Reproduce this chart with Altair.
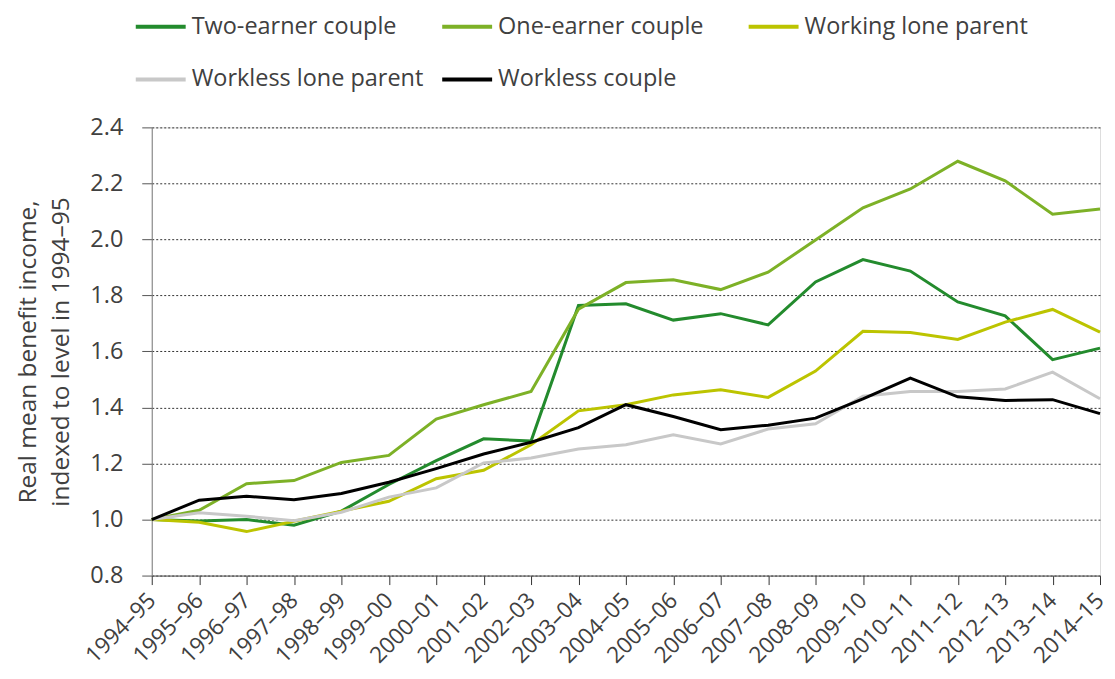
import altair as alt
import pandas as pd

years = ["1994–95", "1995–96", "1996–97", "1997–98", "1998–99", "1999–00",
         "2000–01", "2001–02", "2002–03", "2003–04", "2004–05", "2005–06",
         "2006–07", "2007–08", "2008–09", "2009–10", "2010–11", "2011–12",
         "2012–13", "2013–14", "2014–15"]

two_earner = [1.00, 0.995, 1.00, 0.98, 1.03, 1.125, 1.21, 1.288, 1.28, 1.764, 1.77,
              1.712, 1.735, 1.695, 1.848, 1.928, 1.887, 1.777, 1.727, 1.571, 1.612]
one_earner = [1.00, 1.033, 1.128, 1.139, 1.204, 1.229, 1.359, 1.41, 1.457, 1.751, 1.846,
              1.856, 1.821, 1.883, 1.998, 2.113, 2.18, 2.279, 2.209, 2.09, 2.109]
working_lone = [1.00, 0.99, 0.957, 0.994, 1.03, 1.065, 1.146, 1.176, 1.267, 1.388, 1.41,
                1.445, 1.463, 1.436, 1.53, 1.672, 1.668, 1.643, 1.705, 1.75, 1.669]
workless_lone = [1.00, 1.024, 1.012, 0.996, 1.026, 1.08, 1.113, 1.202, 1.22, 1.252, 1.267,
                 1.303, 1.27, 1.323, 1.342, 1.44, 1.457, 1.457, 1.466, 1.526, 1.431]
workless_couple = [1.00, 1.069, 1.083, 1.071, 1.093, 1.133, 1.182, 1.234, 1.276, 1.328, 1.41,
                   1.368, 1.321, 1.337, 1.362, 1.431, 1.505, 1.438, 1.425, 1.428, 1.378]

series_names = ["Two-earner couple", "One-earner couple", "Working lone parent",
                "Workless lone parent", "Workless couple"]
series_values = [two_earner, one_earner, working_lone, workless_lone, workless_couple]
series_colors = ["#238B2D", "#7DB127", "#BCC400", "#C8C8C8", "#000000"]
draw_order = [3, 2, 1, 0, 4]

rows = []
for k, (name, vals) in enumerate(zip(series_names, series_values)):
    for y, v in zip(years, vals):
        rows.append({"year": y, "value": v, "series": name, "order": draw_order[k]})
df = pd.DataFrame(rows)

FONT = "Open Sans"
TXT = "#404040"
FS = 23.5

chart = alt.Chart(df).mark_line(strokeWidth=3, strokeJoin="miter").encode(
    x=alt.X("year:N", sort=years,
            scale=alt.Scale(type="point", padding=0),
            axis=alt.Axis(title=None, labelAngle=-45, labelFontSize=22.5,
                          labelFont=FONT, labelColor=TXT, labelPadding=12,
                          tickSize=9, tickColor="#333333", domainColor="#555555",
                          grid=False, labelAlign="right", labelBaseline="middle")),
    y=alt.Y("value:Q",
            scale=alt.Scale(domain=[0.8, 2.4], nice=False, zero=False),
            axis=alt.Axis(title=["Real mean benefit income,", "indexed to level in 1994–95"],
                          values=[0.8, 1.0, 1.2, 1.4, 1.6, 1.8, 2.0, 2.2, 2.4],
                          format=".1f", labelFontSize=FS, labelFont=FONT,
                          labelColor=TXT, labelPadding=19, tickSize=10,
                          tickColor="#555555", domainColor="#808080",
                          titleFont=FONT, titleFontSize=24.5, titleFontWeight="normal",
                          titleColor=TXT, titlePadding=16, titleLineHeight=33,
                          grid=True, gridColor="#333333", gridDash=[2, 2],
                          gridWidth=1)),
    color=alt.Color("series:N",
                    scale=alt.Scale(domain=series_names, range=series_colors),
                    legend=alt.Legend(title=None, orient="none", legendX=-18,
                                      legendY=-128, columns=3, direction="horizontal",
                                      symbolType="stroke", symbolSize=2500,
                                      symbolStrokeWidth=4, labelFontSize=FS,
                                      labelFont=FONT, labelColor=TXT, labelOffset=4,
                                      columnPadding=10, rowPadding=14,
                                      gridAlign="all", labelLimit=400)),
    order=alt.Order("order:Q"),
).properties(
    width=950, height=449,
    autosize=alt.AutoSizeParams(type="none"),
    padding={"left": 144, "top": 119, "right": 7, "bottom": 95},
).configure_view(stroke=None).configure(font=FONT)

chart.save("out.html", embed_options={"renderer": "svg", "actions": False})
